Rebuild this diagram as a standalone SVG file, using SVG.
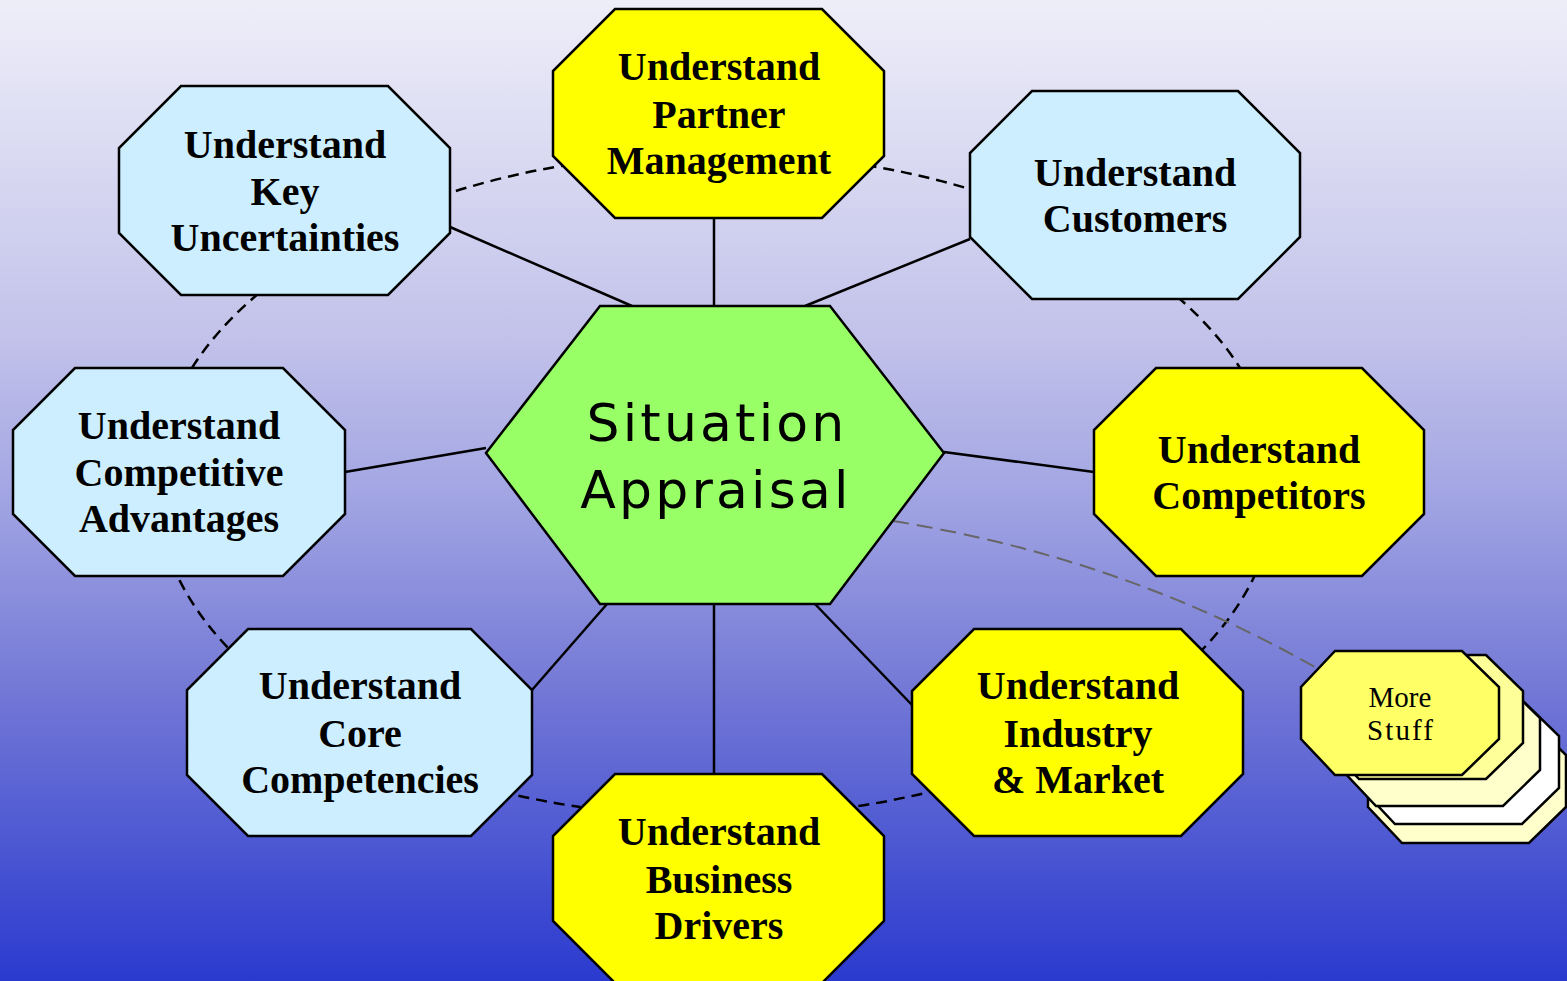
<svg xmlns="http://www.w3.org/2000/svg" width="1567" height="981" viewBox="0 0 1567 981">
<defs>
<linearGradient id="bg" x1="0" y1="0" x2="0" y2="1">
<stop offset="0" stop-color="#eeeef9"/>
<stop offset="0.35" stop-color="#c1c1ea"/>
<stop offset="0.5" stop-color="#a3a6e3"/>
<stop offset="0.7" stop-color="#7479d6"/>
<stop offset="1" stop-color="#2a3acf"/>
</linearGradient>
<polygon id="ms" points="1335,651 1462,651 1499,687 1499,739 1462,775 1335,775 1301,739 1301,687"/>
</defs>
<style>
.oct{stroke:#000;stroke-width:2.5;stroke-linejoin:miter}
.blue{fill:#cceeff}
.yel{fill:#ffff00}
.lbl{font-family:"Liberation Serif","Times New Roman",serif;font-weight:bold;font-size:40px;fill:#000;text-anchor:middle}
.solid{stroke:#000;stroke-width:2.5;fill:none}
.ring{stroke:#000;stroke-width:2.5;fill:none;stroke-dasharray:11 7}
.gray{stroke:#666;stroke-width:2;fill:none;stroke-dasharray:16 8}
.msl{stroke:#000;stroke-width:2.5}
.mst{font-family:"Liberation Serif","Times New Roman",serif;font-size:29px;fill:#000;text-anchor:middle}
.ctr{font-family:"DejaVu Sans",Verdana,sans-serif;font-size:52px;letter-spacing:3.2px;fill:#000;text-anchor:middle}
</style>
<rect x="0" y="0" width="1567" height="981" fill="url(#bg)"/>
<g id="connectors">
<ellipse class="ring" cx="716" cy="485" rx="560" ry="332"/>
<line class="solid" x1="450" y1="227" x2="632" y2="306"/>
<line class="solid" x1="714" y1="218" x2="714" y2="306"/>
<line class="solid" x1="970" y1="239" x2="805" y2="306"/>
<line class="solid" x1="345" y1="472" x2="486" y2="448"/>
<line class="solid" x1="944" y1="452" x2="1094" y2="472"/>
<line class="solid" x1="532" y1="690" x2="607" y2="604"/>
<line class="solid" x1="714" y1="604" x2="714" y2="774"/>
<line class="solid" x1="815" y1="604" x2="912" y2="705"/>
<path class="gray" d="M893,521 Q1125,558 1320,670"/>
</g>
<g id="center">
<polygon points="600,306 830,306 944,453 830,604 600,604 486,453" fill="#99ff66" stroke="#000" stroke-width="2.5"/>
<text class="ctr" x="717" y="441">Situation</text>
<text class="ctr" x="716" y="508">Appraisal</text>
</g>
<g id="key-uncertainties">
<polygon class="oct blue" points="181,86 388,86 450,148 450,233 388,295 181,295 119,233 119,148"/>
<text class="lbl" x="285" y="157.5">Understand</text>
<text class="lbl" x="285" y="204.5">Key</text>
<text class="lbl" x="285" y="250.5">Uncertainties</text>
</g>
<g id="partner-management">
<polygon class="oct yel" points="615,9 822,9 884,71 884,156 822,218 615,218 553,156 553,71"/>
<text class="lbl" x="719" y="80">Understand</text>
<text class="lbl" x="719" y="127.5">Partner</text>
<text class="lbl" x="719" y="174">Management</text>
</g>
<g id="customers">
<polygon class="oct blue" points="1032,91 1238,91 1300,153 1300,237 1238,299 1032,299 970,237 970,153"/>
<text class="lbl" x="1135" y="185.5">Understand</text>
<text class="lbl" x="1135" y="232">Customers</text>
</g>
<g id="competitive-advantages">
<polygon class="oct blue" points="75,368 283,368 345,430 345,514 283,576 75,576 13,514 13,430"/>
<text class="lbl" x="179" y="439">Understand</text>
<text class="lbl" x="179" y="486">Competitive</text>
<text class="lbl" x="179" y="532">Advantages</text>
</g>
<g id="competitors">
<polygon class="oct yel" points="1156,368 1362,368 1424,430 1424,514 1362,576 1156,576 1094,514 1094,430"/>
<text class="lbl" x="1259" y="462.5">Understand</text>
<text class="lbl" x="1259" y="509">Competitors</text>
</g>
<g id="core-competencies">
<polygon class="oct blue" points="248,629 471,629 532,690 532,775 471,836 248,836 187,775 187,690"/>
<text class="lbl" x="360" y="699">Understand</text>
<text class="lbl" x="360" y="746.5">Core</text>
<text class="lbl" x="360" y="792.5">Competencies</text>
</g>
<g id="industry-market">
<polygon class="oct yel" points="974,629 1181,629 1243,691 1243,774 1181,836 974,836 912,774 912,691"/>
<text class="lbl" x="1078" y="699">Understand</text>
<text class="lbl" x="1078" y="746.5">Industry</text>
<text class="lbl" x="1078" y="792.5">&amp; Market</text>
</g>
<g id="business-drivers">
<polygon class="oct yel" points="615,774 822,774 884,836 884,921 822,983 615,983 553,921 553,836"/>
<text class="lbl" x="719" y="845">Understand</text>
<text class="lbl" x="719" y="892.5">Business</text>
<text class="lbl" x="719" y="938.5">Drivers</text>
</g>
<g id="more-stuff">
<use href="#ms" class="msl" fill="#ffffcc" transform="translate(67,68)"/>
<use href="#ms" class="msl" fill="#ffffff" transform="translate(60,49)"/>
<use href="#ms" class="msl" fill="#ffffcc" transform="translate(41,31)"/>
<use href="#ms" class="msl" fill="#ffff99" transform="translate(24,4)"/>
<use href="#ms" class="msl" fill="#ffff66"/>
<text class="mst" x="1400" y="707">More</text>
<text class="mst" x="1400" y="740" textLength="66" lengthAdjust="spacing">Stuff</text>
</g>
</svg>
